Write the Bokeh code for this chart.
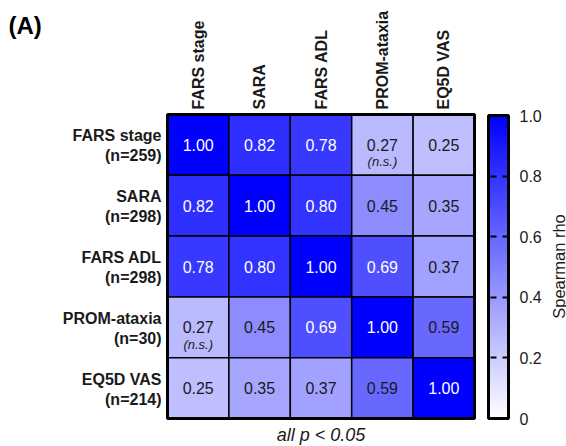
from math import pi
from bokeh.plotting import figure
from bokeh.models import (ColumnDataSource, Range1d, LinearColorMapper, ColorBar,
                          FixedTicker, CustomJSTickFormatter)
from bokeh.transform import transform
from bokeh.core.properties import value
from bokeh.embed import file_html
from bokeh.resources import INLINE

# ---------------- data ----------------
measures = ["FARS stage", "SARA", "FARS ADL", "PROM-ataxia", "EQ5D VAS"]
n_labels = ["(n=259)", "(n=298)", "(n=298)", "(n=30)", "(n=214)"]
rho = [
    [1.00, 0.82, 0.78, 0.27, 0.25],
    [0.82, 1.00, 0.80, 0.45, 0.35],
    [0.78, 0.80, 1.00, 0.69, 0.37],
    [0.27, 0.45, 0.69, 1.00, 0.59],
    [0.25, 0.35, 0.37, 0.59, 1.00],
]
not_significant = [(0, 3), (3, 0)]
cbar_ticks = [0, 0.2, 0.4, 0.6, 0.8, 1.0]
footnote = "all p < 0.05"
cbar_title = "Spearman rho"
panel_tag = "(A)"

FONT = "Liberation Sans"
N = len(measures)

# layout (pixels) of the heat-map frame inside the canvas
W, H = 566, 446
LEFT, RIGHT, TOP, BOTTOM = 167, 474, 114, 418
px_x = (RIGHT - LEFT) / N
px_y = (BOTTOM - TOP) / N

# ---------------- sources ----------------
xs, ys, vals, txt, tcol = [], [], [], [], []
for i in range(N):
    for j in range(N):
        xs.append(j + 0.5)
        ys.append(N - i - 0.5)
        vals.append(rho[i][j])
        txt.append("%.2f" % rho[i][j])
        tcol.append("#ffffff" if rho[i][j] > 0.6 else "#1a1a1a")
cells = ColumnDataSource(dict(x=xs, y=ys, v=vals, t=txt, c=tcol))

ns_src = ColumnDataSource(dict(
    x=[j + 0.5 for (i, j) in not_significant],
    y=[N - i - 0.5 for (i, j) in not_significant],
    t=["(n.s.)"] * len(not_significant)))

row_src = ColumnDataSource(dict(
    x=[0] * N, y=[N - i - 0.5 for i in range(N)], name=measures, n=n_labels))
col_src = ColumnDataSource(dict(
    x=[j + 0.5 for j in range(N)], y=[N] * N, name=measures))

palette = ["#%02x%02xff" % (v, v) for v in range(255, -1, -1)]
mapper = LinearColorMapper(palette=palette, low=0, high=1)

# ---------------- figure ----------------
p = figure(width=W, height=H, output_backend="svg", toolbar_location=None,
           x_range=Range1d(-LEFT / px_x, N + (W - RIGHT) / px_x),
           y_range=Range1d(-(H - BOTTOM) / px_y, N + TOP / px_y),
           min_border=0)
p.xaxis.visible = False
p.yaxis.visible = False
p.grid.visible = False
p.outline_line_color = None
p.background_fill_color = "white"
p.border_fill_color = "white"

p.rect(x="x", y="y", width=1, height=1, source=cells,
       fill_color=transform("v", mapper), line_color="black", line_width=1.5)
p.rect(x=[N / 2], y=[N / 2], width=N, height=N, fill_color=None,
       line_color="black", line_width=3)
p.text(x="x", y="y", text="t", source=cells, text_color="c",
       text_align="center", text_baseline="middle",
       text_font=value(FONT), text_font_size="16px")
p.text(x="x", y="y", text="t", source=ns_src, text_color="#1a1a1a",
       text_align="center", text_baseline="middle", y_offset=17,
       text_font=value(FONT), text_font_size="13px", text_font_style="italic")

# row labels (two lines)
p.text(x="x", y="y", text="name", source=row_src, x_offset=-6, y_offset=-9,
       text_align="right", text_baseline="middle", text_font=value(FONT),
       text_font_size="16px", text_font_style="bold", text_color="#1a1a1a")
p.text(x="x", y="y", text="n", source=row_src, x_offset=-6, y_offset=11,
       text_align="right", text_baseline="middle", text_font=value(FONT),
       text_font_size="16px", text_font_style="bold", text_color="#1a1a1a")
# column labels (rotated)
p.text(x="x", y="y", text="name", source=col_src, y_offset=-5, angle=pi / 2,
       text_align="left", text_baseline="middle", text_font=value(FONT),
       text_font_size="16px", text_font_style="bold", text_color="#1a1a1a")

# colour bar
cb = ColorBar(color_mapper=mapper, location=(488, H - BOTTOM), width=20,
              height=BOTTOM - TOP - 1, padding=0, margin=0,
              background_fill_alpha=0,
              ticker=FixedTicker(ticks=cbar_ticks),
              formatter=CustomJSTickFormatter(code="return tick == 0 ? '0' : tick.toFixed(1)"),
              bar_line_color="black", bar_line_width=3,
              major_tick_in=20, major_tick_out=0, major_tick_line_color="black",
              major_tick_line_width=2, major_tick_line_dash="6 6",
              minor_tick_line_color=None, label_standoff=11,
              major_label_text_font=FONT, major_label_text_font_size="16px",
              major_label_text_color="#1a1a1a")
p.add_layout(cb)

p.text(x=[N], y=[N / 2], text=[cbar_title], x_offset=84, angle=pi / 2,
       text_align="center", text_baseline="middle", text_font=value(FONT),
       text_font_size="16.5px", text_color="#1a1a1a")
p.text(x=[N / 2], y=[0], text=[footnote], y_offset=16,
       text_align="center", text_baseline="alphabetic", text_font=value(FONT),
       text_font_size="18px", text_font_style="italic", text_color="#1a1a1a")
p.text(x=[0], y=[N], text=[panel_tag], x_offset=-159, y_offset=-103,
       text_align="left", text_baseline="top", text_font=value(FONT),
       text_font_size="24px", text_font_style="bold", text_color="black")

open("out.html", "w").write(file_html(p, INLINE))
